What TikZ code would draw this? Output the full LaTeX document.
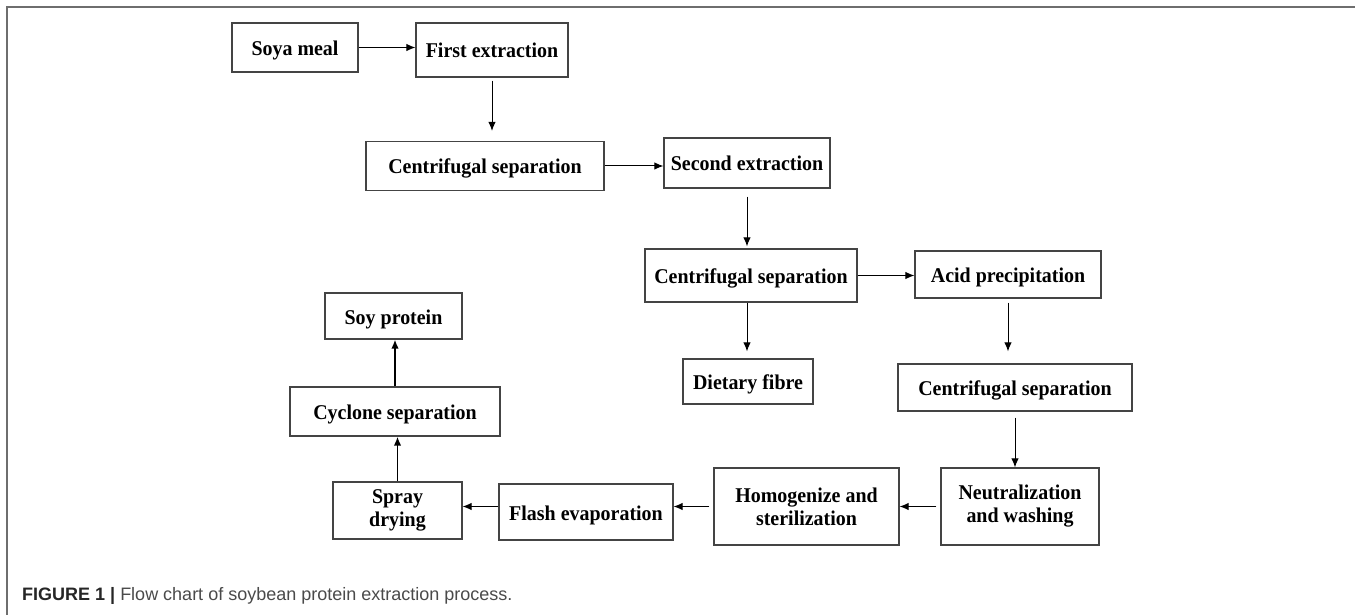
\documentclass[tikz,border=0pt]{standalone}
\usepackage{fontspec}
\setmainfont{Liberation Serif}[FakeStretch=0.95]
\newfontfamily\capfont{Liberation Sans}
\usetikzlibrary{arrows.meta}
\definecolor{framegray}{HTML}{6E6E6E}
\definecolor{boxgray}{HTML}{444444}
\definecolor{capgray}{HTML}{4A4A4A}

\begin{document}
\begin{tikzpicture}[x=1pt,y=-1pt]
\tikzset{flow box/.style args={#1/#2}{draw=boxgray,line width=1.3pt,minimum width=#1pt,minimum height=#2pt,inner sep=0pt,align=center,font=\fontsize{21}{23}\selectfont\bfseries},
  one line/.style={text height=18pt,text depth=2pt},
  flow arrow/.style={-{Latex[length=9pt,width=7.5pt]},line width=1pt}}

\useasboundingbox (0,0) rectangle (1355,615);
\draw[framegray,line width=1.8pt] (7,615) -- (7,7) -- (1355,7);

\node[flow box=126/49,one line] (soya) at (295,47.5) {Soya meal};
\node[flow box=152/54,one line] (first) at (492,50) {First extraction};
\node[flow box=238/49,one line] (cs1) at (485,166) {Centrifugal separation};
\node[flow box=166/50,one line] (second) at (747,163) {Second extraction};
\node[flow box=212/53,one line] (cs2) at (751,275.5) {Centrifugal separation};
\node[flow box=186/47,one line] (acid) at (1008,274.5) {Acid precipitation};
\node[flow box=130/45,one line] (diet) at (748,381.5) {Dietary fibre};
\node[flow box=234/47,one line] (cs3) at (1015,387.5) {Centrifugal separation};
\node[flow box=158/77] (neut) at (1020,506.5) {Neutralization\\and washing};
\node[flow box=185/77] (homog) at (806.5,506.5) {Homogenize and\\sterilization};
\node[flow box=174/56,one line] (flash) at (586,512) {Flash evaporation};
\node[flow box=129/57] (spray) at (397.5,510.5) {Spray\\drying};
\node[flow box=210/49,one line] (cyc) at (395,411.5) {Cyclone separation};
\node[flow box=137/46,one line] (soy) at (393.5,316) {Soy protein};

% process arrows
\draw[flow arrow] (soya.east) -- (soya.east -| first.west);
\draw[flow arrow,shorten <=3pt,shorten >=10pt] (first.south) -- (first.south |- cs1.north);
\draw[flow arrow] (cs1.east) -- (cs1.east -| second.west);
\draw[flow arrow,shorten <=8pt,shorten >=2pt] (second.south) -- (second.south |- cs2.north);
\draw[flow arrow] (cs2.east) -- (cs2.east -| acid.west);
\draw[flow arrow,shorten >=7pt] ([xshift=-4pt]cs2.south) -- ([xshift=-4pt]cs2.south |- diet.north);
\draw[flow arrow,shorten <=4pt,shorten >=12pt] (acid.south) -- (acid.south |- cs3.north);
\draw[flow arrow,shorten <=6pt] (cs3.south) -- (cs3.south |- neut.north);
\draw[flow arrow,shorten <=4pt] (neut.west) -- (neut.west -| homog.east);
\draw[flow arrow,shorten <=4pt] (homog.west) -- (homog.west -| flash.east);
\draw[flow arrow] (flash.west |- homog.west) -- (flash.west |- homog.west -| spray.east);
\draw[flow arrow,line width=1.6pt] (spray.north) -- (spray.north |- cyc.south);
\draw[flow arrow,line width=1.6pt] (cyc.north) -- (cyc.north |- soy.south);

\node[anchor=base west,inner sep=0pt,font=\capfont\fontsize{18}{20}\selectfont,text=capgray] (cap) at (22,600) {\textbf{\color{black!85}FIGURE 1 |} Flow chart of soybean protein extraction process.};
\end{tikzpicture}
\end{document}
